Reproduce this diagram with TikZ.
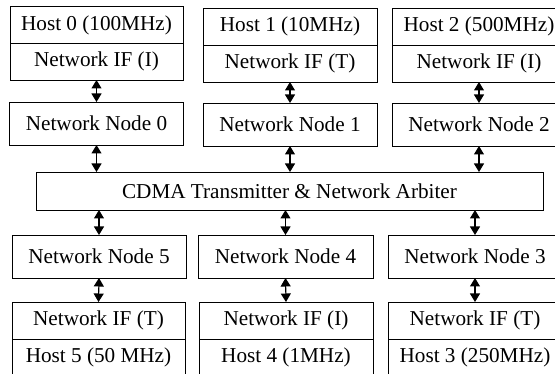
\documentclass[tikz,border=0pt]{standalone}
\usepackage{fontspec}
\setmainfont{Liberation Serif}
\usetikzlibrary{arrows.meta,calc}

\tikzset{
  unit/.style={draw=black, line width=0.9pt, inner sep=0pt, outer sep=0pt,
    minimum width=174pt, font=\fontsize{21.2}{25}\selectfont},
  rowbox/.style={unit, minimum height=37pt},
  nodebox/.style={unit, minimum height=43pt},
  link/.style={line width=1.1pt, {Triangle[width=10pt,length=8.5pt]}-{Triangle[width=10pt,length=8.5pt]}},
}

\begin{document}
\begin{tikzpicture}[x=1pt,y=-1pt]
  \useasboundingbox (0,0) rectangle (555,374);
  \clip (0,0) rectangle (555,374);

  % hosts and their interfaces, top row
  \node[rowbox, minimum width=173pt] (h0) at (96.5,25) {Host 0 (100MHz)};
  \node[rowbox, minimum width=173pt] (i0) at (96.5,61.5) {Network IF (I)};
  \node[rowbox] (h1) at (290,26.5) {Host 1 (10MHz)};
  \node[rowbox] (i1) at (290,63.5) {Network IF (T)};
  \node[rowbox] (h2) at (479,26.5) {Host 2 (500MHz)};
  \node[rowbox] (i2) at (479,63.5) {Network IF (I)};

  % network nodes, top row
  \node[nodebox] (n0) at (96.5,123.5) {Network Node 0};
  \node[nodebox] (n1) at (290,124.5) {Network Node 1};
  \node[nodebox] (n2) at (479,124.5) {Network Node 2};

  % shared transmitter
  \node[unit, minimum width=507pt, minimum height=38pt] (c) at (289.5,191)
    {CDMA Transmitter \& Network Arbiter};

  % network nodes, bottom row
  \node[nodebox] (n5) at (99,256.5) {Network Node 5};
  \node[nodebox, minimum width=175pt] (n4) at (285.5,256.5) {Network Node 4};
  \node[nodebox] (n3) at (475,256.5) {Network Node 3};

  % interfaces and hosts, bottom row
  \node[rowbox, minimum width=173pt] (i5) at (98.5,320.5) {Network IF (T)};
  \node[rowbox, minimum width=173pt] (h5) at (98.5,357.5) {Host 5 (50 MHz)};
  \node[rowbox] (i4) at (286,320.5) {Network IF (I)};
  \node[rowbox] (h4) at (286,357.5) {Host 4 (1MHz)};
  \node[rowbox] (i3) at (475,320.5) {Network IF (T)};
  \node[rowbox] (h3) at (475,357.5) {Host 3 (250MHz)};

  % links
  \draw[link] (i0.south) -- (n0.north);
  \draw[link] (i1.south) -- (n1.north);
  \draw[link] (i2.south) -- (n2.north);
  \draw[link] (n0.south) -- (c.north -| n0.south);
  \draw[link] (n1.south) -- (c.north -| n1.south);
  \draw[link] (n2.south) -- (c.north -| n2.south);
  \draw[link] (c.south -| n5.north) -- (n5.north);
  \draw[link] (c.south -| n4.north) -- (n4.north);
  \draw[link] (c.south -| n3.north) -- (n3.north);
  \draw[link] (n5.south) -- (i5.north);
  \draw[link] (n4.south) -- (i4.north);
  \draw[link] (n3.south) -- (i3.north);
\end{tikzpicture}
\end{document}
